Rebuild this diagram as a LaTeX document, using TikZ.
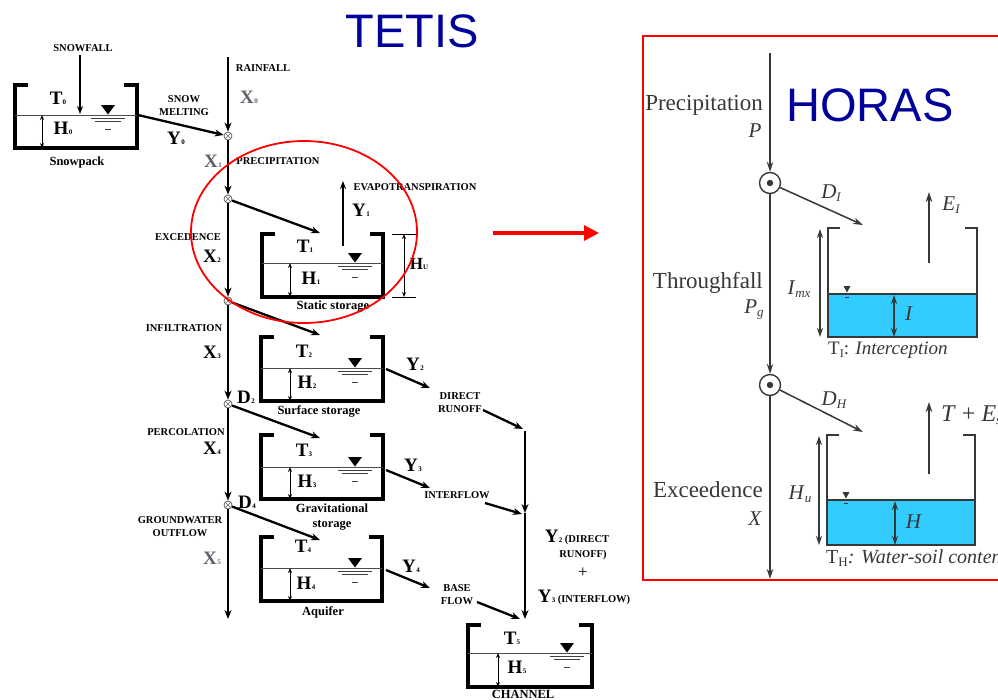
\documentclass[tikz,border=0pt]{standalone}
\usepackage{fontspec}
\setmainfont{Liberation Serif}
\newfontfamily\sansf{Liberation Sans}
\usetikzlibrary{arrows.meta}
\definecolor{navy}{RGB}{0,0,155}
\definecolor{hgray}{RGB}{55,55,55}
\definecolor{xgray}{RGB}{95,95,105}
\definecolor{waterc}{RGB}{51,204,255}
\newcommand\capsl{\fontsize{10.5}{13}\selectfont\bfseries}
\newcommand\tnk{\fontsize{12.5}{15}\selectfont\bfseries}
\newcommand\BL[2]{{\fontsize{19}{19}\selectfont\bfseries #1}\kern0.3pt{\fontsize{7}{7}\selectfont\bfseries #2}}
\newcommand\HS[2]{\textit{#1}\raisebox{-3pt}{\fontsize{13}{13}\selectfont\itshape #2}}
\newcommand\ttank[5]{%
  \draw[tankwall] ({#1+13},#2) -- (#1,#2) -- (#1,#4) -- (#3,#4) -- (#3,#2) -- ({#3-13},#2);
  \draw[wline] (#1,#5) -- (#3,#5);}
\newcommand\wsym[2]{%
  \fill ({#1-7},{#2-10}) -- ({#1+7},{#2-10}) -- (#1,{#2-0.5}) -- cycle;
  \draw[line width=0.7pt,black!75] ({#1-17},{#2+3}) -- ({#1+17},{#2+3}) ({#1-13},{#2+6}) -- ({#1+13},{#2+6}) ({#1-3},{#2+14}) -- ({#1+3},{#2+14});}
\newcommand\htank[5]{%
  \fill[waterc] (#1,#5) rectangle (#3,#4);
  \draw[hwall] ({#1+12},#2) -- (#1,#2) -- (#1,#4) -- (#3,#4) -- (#3,#2) -- ({#3-12},#2);
  \draw[hwall] (#1,#5) -- (#3,#5);}
\newcommand\lvl[2]{%
  \fill[hgray] ({#1-3.5},{#2-8}) -- ({#1+3.5},{#2-8}) -- (#1,{#2-1.5}) -- cycle;
  \draw[hgray,line width=0.6pt] ({#1-2},{#2+3}) -- ({#1+2},{#2+3});}
\tikzset{
  flow/.style={line width=2.3pt,-{Stealth[length=9pt,width=7pt]}},
  tankwall/.style={line width=3.4pt,line join=miter},
  wline/.style={line width=0.8pt,draw=black!70},
  dimarr/.style={line width=1pt,{Stealth[length=5pt,width=4pt]}-{Stealth[length=5pt,width=4pt]}},
  jn/.style={circle,draw=black!60,fill=white,line width=0.8pt,inner sep=0pt,minimum size=8pt,
    path picture={\draw[black!60,line width=0.6pt] (path picture bounding box.north west) -- (path picture bounding box.south east) (path picture bounding box.north east) -- (path picture bounding box.south west);}},
  sl/.style={font=\capsl,align=center,inner sep=0pt},
  tl/.style={font=\tnk,align=center,inner sep=0pt},
  bl/.style={inner sep=0pt},
  hwall/.style={line width=2pt,draw=hgray},
  hflow/.style={line width=1.5pt,draw=hgray,-{Stealth[length=10pt,width=6.5pt]},fill=hgray},
  hdim/.style={line width=1.5pt,draw=hgray,fill=hgray,{Stealth[length=9pt,width=6pt]}-{Stealth[length=9pt,width=6pt]}},
  hj/.style={circle,draw=hgray,fill=white,line width=1.4pt,inner sep=0pt,minimum size=21pt,
    path picture={\fill[hgray] (path picture bounding box.center) circle (3.2pt);}},
  ht/.style={text=hgray,inner sep=0pt,font=\fontsize{23}{23}\selectfont},
  hm/.style={text=hgray,inner sep=0pt,font=\fontsize{21}{21}\selectfont},
  ttl/.style={text=navy,inner sep=0pt,font=\sansf\fontsize{47}{47}\selectfont}
}
\begin{document}
\begin{tikzpicture}[x=1pt,y=-1pt]
\useasboundingbox (0,0) rectangle (998,699);
\clip (0,0) rectangle (998,699);
% titles
\node[ttl] (tetis) at (412,31) {TETIS};
\node[ttl] (horas) at (870,105) {HORAS};

% ===== TETIS =====
% junctions
\node[jn] (j0) at (228,136) {};
\node[jn] (j1) at (228,199) {};
\node[jn] (j2) at (228,301) {};
\node[jn] (j3) at (228,404) {};
\node[jn] (j4) at (228,505) {};
\coordinate (rain) at (228,57);
\coordinate (xend) at (228,619);
\draw[flow] (rain) -- (j0);
\draw[flow] (j0) -- (j1);
\draw[flow] (j1) -- (j2);
\draw[flow] (j2) -- (j3);
\draw[flow] (j3) -- (j4);
\draw[flow] (j4) -- (xend);

% snowpack
\ttank{15}{85}{137}{148}{115}
\coordinate (hs0a) at (42,115); \coordinate (hs0b) at (42,148);
\draw[dimarr] (hs0a) -- (hs0b);
\wsym{108}{115}
\coordinate (sf0) at (80,55); \coordinate (sf1) at (80,114);
\draw[line width=2pt,-{Stealth[length=8pt,width=6pt]}] (sf0) -- (sf1);
\coordinate (snowout) at (138,115);
\draw[flow] (snowout) -- (j0);
\node[sl] (snowfall) at (83,48) {SNOWFALL};
\node[bl] (t0) at (58,98) {\BL{T}{0}};
\node[bl] (h0) at (63,128) {\BL{H}{0}};
\node[tl] (snowpack) at (77,162) {Snowpack};
\node[sl] (melt) at (184,106) {SNOW\\MELTING};
\node[bl] (y0) at (176,138) {\BL{Y}{0}};
\node[sl] (rainfall) at (263,68) {RAINFALL};
\node[bl,text=xgray] (x0) at (249,97) {\BL{X}{0}};
\node[bl,text=xgray] (x1) at (213,161) {\BL{X}{1}};
\node[sl] (precip) at (278,161) {PRECIPITATION};

% static storage
\ttank{262}{234}{383}{297}{263}
\coordinate (h1a) at (290,263); \coordinate (h1b) at (290,297);
\draw[dimarr] (h1a) -- (h1b);
\wsym{355}{263}
\draw[line width=1pt] (392,234) -- (416,234) (392,297) -- (416,297);
\coordinate (hua) at (404,234); \coordinate (hub) at (404,297);
\draw[dimarr] (hua) -- (hub);
\node[bl] (hu) at (419,264) {{\fontsize{17}{17}\selectfont\bfseries H}{\fontsize{7}{7}\selectfont\bfseries U}};
\coordinate (ev0) at (343,246); \coordinate (ev1) at (343,181);
\draw[line width=2pt,-{Stealth[length=8pt,width=6pt]}] (ev0) -- (ev1);
\node[sl] (evap) at (415,187) {EVAPOTRANSPIRATION};
\node[bl] (y1) at (361,210) {\BL{Y}{1}};
\node[bl] (t1) at (305,246) {\BL{T}{1}};
\node[bl] (h1) at (311,278) {\BL{H}{1}};
\node[tl] (static) at (333,307) {Static storage};
\coordinate (in1) at (320,233);
\draw[flow] (j1) -- (in1);
\node[sl] (exced) at (188,237) {EXCEDENCE};
\node[bl] (x2) at (212,256) {\BL{X}{2}};

% surface storage
\ttank{261}{337}{383}{401}{368}
\coordinate (h2a) at (290,368); \coordinate (h2b) at (290,401);
\draw[dimarr] (h2a) -- (h2b);
\wsym{355}{368}
\node[bl] (t2) at (304,351) {\BL{T}{2}};
\node[bl] (h2) at (307,382) {\BL{H}{2}};
\node[tl] (surface) at (319,411) {Surface storage};
\coordinate (in2) at (320,335);
\draw[flow] (j2) -- (in2);
\node[sl] (infil) at (184,328) {INFILTRATION};
\node[bl] (x3) at (212,352) {\BL{X}{3}};
\node[bl] (d2) at (246,397) {\BL{D}{2}};

% gravitational storage
\ttank{261}{435}{383}{499}{467}
\coordinate (h3a) at (290,467); \coordinate (h3b) at (290,499);
\draw[dimarr] (h3a) -- (h3b);
\wsym{355}{467}
\node[bl] (t3) at (304,450) {\BL{T}{3}};
\node[bl] (h3) at (307,481) {\BL{H}{3}};
\node[tl] (grav) at (332,517) {Gravitational\\storage};
\coordinate (in3) at (320,438);
\draw[flow] (j3) -- (in3);
\node[sl] (perc) at (186,432) {PERCOLATION};
\node[bl] (x4) at (212,448) {\BL{X}{4}};
\node[bl] (d4) at (247,502) {\BL{D}{4}};

% aquifer
\ttank{261}{537}{382}{601}{568}
\coordinate (h4a) at (290,568); \coordinate (h4b) at (290,601);
\draw[dimarr] (h4a) -- (h4b);
\wsym{355}{568}
\node[bl] (t4) at (303,546) {\BL{T}{4}};
\node[bl] (h4) at (306,583) {\BL{H}{4}};
\node[tl] (aquifer) at (323,612) {Aquifer};
\coordinate (in4) at (320,540);
\draw[flow] (j4) -- (in4);
\node[sl] (gw) at (180,527) {GROUNDWATER\\OUTFLOW};
\node[bl,text=xgray] (x5) at (212,558) {\BL{X}{5}};

% outflows
\coordinate (o2) at (386,369); \coordinate (o2e) at (430,388);
\draw[flow] (o2) -- (o2e);
\node[bl] (y2) at (415,364) {\BL{Y}{2}};
\node[sl] (runoff) at (460,403) {DIRECT\\RUNOFF};
\coordinate (r0) at (483,410); \coordinate (v0) at (523,429);
\draw[flow] (r0) -- (v0);
\coordinate (o3) at (386,470); \coordinate (o3e) at (430,488);
\draw[flow] (o3) -- (o3e);
\node[bl] (y3) at (413,465) {\BL{Y}{3}};
\node[sl] (interflow) at (457,495) {INTERFLOW};
\coordinate (i0) at (485,503); \coordinate (v1) at (522,514);
\draw[flow] (i0) -- (v1);
\coordinate (o4) at (386,570); \coordinate (o4e) at (430,588);
\draw[flow] (o4) -- (o4e);
\node[bl] (y4) at (411,566) {\BL{Y}{4}};
\node[sl] (base) at (457,595) {BASE\\FLOW};
\coordinate (b0) at (477,602); \coordinate (v2) at (520,619);
\draw[flow] (b0) -- (v2);
\coordinate (vt) at (525,431); \coordinate (vm) at (525,513); \coordinate (vb) at (525,619);
\draw[flow] (vt) -- (vm);
\draw[flow] (vm) -- (vb);
\node[bl] (sum1) at (577,537) {\BL{Y}{2}\ {\capsl (DIRECT}};
\node[sl] (sum2) at (583,555) {RUNOFF)};
\node[bl] (sum3) at (583,573) {\fontsize{17}{17}\selectfont +};
\node[bl] (sum4) at (584,597) {\BL{Y}{3}\ {\capsl (INTERFLOW)}};

% channel
\ttank{468}{625}{592}{687}{653}
\coordinate (h5a) at (498,653); \coordinate (h5b) at (498,687);
\draw[dimarr] (h5a) -- (h5b);
\wsym{567}{653}
\node[bl] (t5) at (512,638) {\BL{T}{5}};
\node[bl] (h5) at (517,667) {\BL{H}{5}};
\node[tl] (channel) at (523,694) {CHANNEL};

% red highlight
\draw[red,line width=1.8pt] (304,232) ellipse [x radius=113pt,y radius=91pt];
\coordinate (ra0) at (493,233); \coordinate (ra1) at (599,233);
\draw[red,line width=3.2pt,-{Triangle[length=15pt,width=15pt]}] (ra0) -- (ra1);
\draw[red,line width=2pt] (643,36) rectangle (1010,580);

% ===== HORAS =====
\node[hj] (hj1) at (770,183) {};
\node[hj] (hj2) at (770,385) {};
\coordinate (hp0) at (770,53);
\coordinate (hx) at (770,579);
\draw[hflow] (hp0) -- (hj1);
\draw[hflow] (hj1) -- (hj2);
\draw[hflow] (hj2) -- (hx);
\node[ht,anchor=east] (prec) at (763,105) {Precipitation};
\node[hm] (p) at (755,131) {\textit{P}};
\node[ht,anchor=east] (thr) at (763,283) {Throughfall};
\node[hm] (pg) at (754,310) {\HS{P}{g}};
\node[ht,anchor=east] (exc) at (763,490) {Exceedence};
\node[hm] (x) at (755,519) {\textit{X}};

% interception tank
\htank{828}{228}{977}{337}{294}
\lvl{847}{294}
\coordinate (ima) at (820,229); \coordinate (imb) at (820,337);
\draw[hdim] (ima) -- (imb);
\coordinate (ia) at (894,295); \coordinate (ib) at (894,337);
\draw[hdim] (ia) -- (ib);
\node[hm] (imx) at (799,289) {\textit{I}\raisebox{-3pt}{\fontsize{13}{13}\selectfont\itshape mx}};
\node[hm] (ilab) at (909,314) {\textit{I}};
\node[text=hgray,inner sep=0pt,font=\fontsize{19}{19}\selectfont,anchor=west] (tI) at (828,350) {T\raisebox{-3pt}{\fontsize{12}{12}\selectfont I}: \textit{Interception}};
\coordinate (dI) at (863,225);
\draw[hflow] (hj1) -- (dI);
\node[hm] (dIl) at (831,193) {\HS{D}{I}};
\coordinate (eI0) at (929,263); \coordinate (eI1) at (929,192);
\draw[hflow] (eI0) -- (eI1);
\node[hm] (eIl) at (951,205) {\HS{E}{I}};

% water-soil tank
\htank{827}{435}{975}{545}{500}
\lvl{846}{500}
\coordinate (hua2) at (819,436); \coordinate (hub2) at (819,545);
\draw[hdim] (hua2) -- (hub2);
\coordinate (ha) at (895,501); \coordinate (hb) at (895,545);
\draw[hdim] (ha) -- (hb);
\node[hm] (hul) at (800,494) {\HS{H}{u}};
\node[hm] (hl) at (914,522) {\textit{H}};
\node[text=hgray,inner sep=0pt,font=\fontsize{20}{20}\selectfont,anchor=west] (tH) at (826,558) {T\raisebox{-3pt}{\fontsize{13}{13}\selectfont H}\textit{: Water-soil content}};
\coordinate (dH) at (863,432);
\draw[hflow] (hj2) -- (dH);
\node[hm] (dHl) at (834,400) {\HS{D}{H}};
\coordinate (te0) at (929,474); \coordinate (te1) at (929,402);
\draw[hflow] (te0) -- (te1);
\node[hm,anchor=west,font=\fontsize{24}{24}\selectfont] (tel) at (941,415) {\textit{T} + \HS{E}{s}};
\end{tikzpicture}
\end{document}
